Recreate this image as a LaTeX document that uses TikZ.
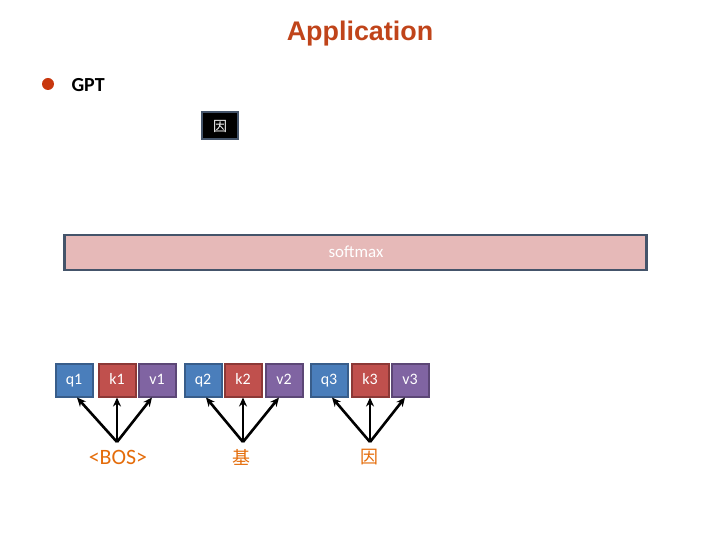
\documentclass[tikz,border=0pt]{standalone}
\usepackage{fontspec}
\setmainfont{Carlito}
\newfontfamily\arialfont{Liberation Sans}
\newfontfamily\cjk{Noto Sans CJK SC}
\usetikzlibrary{arrows.meta}
\definecolor{titlecol}{HTML}{C0441A}
\definecolor{bulletcol}{HTML}{C8370E}
\definecolor{framecol}{HTML}{44546A}
\definecolor{smfill}{HTML}{E6B9B8}
\definecolor{qfill}{HTML}{4A7EBB}
\definecolor{qdraw}{HTML}{385D8A}
\definecolor{kfill}{HTML}{C0504D}
\definecolor{kdraw}{HTML}{8C3836}
\definecolor{vfill}{HTML}{8064A2}
\definecolor{vdraw}{HTML}{5C4776}
\definecolor{tokcol}{HTML}{E46C0A}
\tikzset{
  vecbox/.style={minimum width=37bp, minimum height=33bp, inner sep=0pt, line width=2bp, text=white, font=\fontsize{16}{18}\selectfont, text height=11bp, text depth=2bp},
  qbox/.style={vecbox, fill=qfill, draw=qdraw},
  kbox/.style={vecbox, fill=kfill, draw=kdraw},
  vbox/.style={vecbox, fill=vfill, draw=vdraw},
  tok/.style={text=tokcol, font=\fontsize{22}{26}\selectfont},
  arr/.style={-{Stealth[length=9bp,width=8bp]}, line width=2.6bp, black}
}
\begin{document}
\begin{tikzpicture}[x=1bp,y=-1bp]
\useasboundingbox (0,0) rectangle (720,540);
\node[text=titlecol, font=\arialfont\bfseries\fontsize{27}{30}\selectfont] (title) at (360,34) {Application};
\fill[bulletcol] (48,84) circle (6bp);
\node[anchor=west, font=\bfseries\fontsize{20}{24}\selectfont] (gpt) at (68,85) {GPT};
\node[fill=black, draw=framecol, line width=2bp, minimum width=36bp, minimum height=27bp, inner sep=0pt, text=white, font=\cjk\fontsize{14}{16}\selectfont] (out) at (220,126) {因};
\node[fill=smfill, draw=framecol, line width=2.5bp, minimum width=582bp, minimum height=35bp, inner sep=0pt] (sm) at (355.5,252.5) {};
\node[text=white, font=\fontsize{17}{20}\selectfont] (smt) at (356,252) {softmax};
\node[qbox] (q1) at (74,380) {q1};
\node[kbox] (k1) at (117,380) {k1};
\node[vbox] (v1) at (157,380) {v1};
\node[qbox] (q2) at (203,380) {q2};
\node[kbox] (k2) at (243,380) {k2};
\node[vbox] (v2) at (284,380) {v2};
\node[qbox] (q3) at (329,380) {q3};
\node[kbox] (k3) at (370,380) {k3};
\node[vbox] (v3) at (410,380) {v3};
\node[tok] (t1) at (118,457) {<BOS>};
\node[tok, font=\cjk\fontsize{18}{21}\selectfont] (t2) at (241,457) {基};
\node[tok, font=\cjk\fontsize{18}{21}\selectfont] (t3) at (369,457) {因};
\coordinate (s1) at (117,442);
\coordinate (s2) at (243,442);
\coordinate (s3) at (370,442);
\foreach \i in {1,2,3}{
  \draw[arr] (s\i) -- ([xshift=3bp]q\i.south);
  \draw[arr] (s\i) -- (k\i.south);
  \draw[arr] (s\i) -- ([xshift=-5bp]v\i.south);
}
\end{tikzpicture}
\end{document}
